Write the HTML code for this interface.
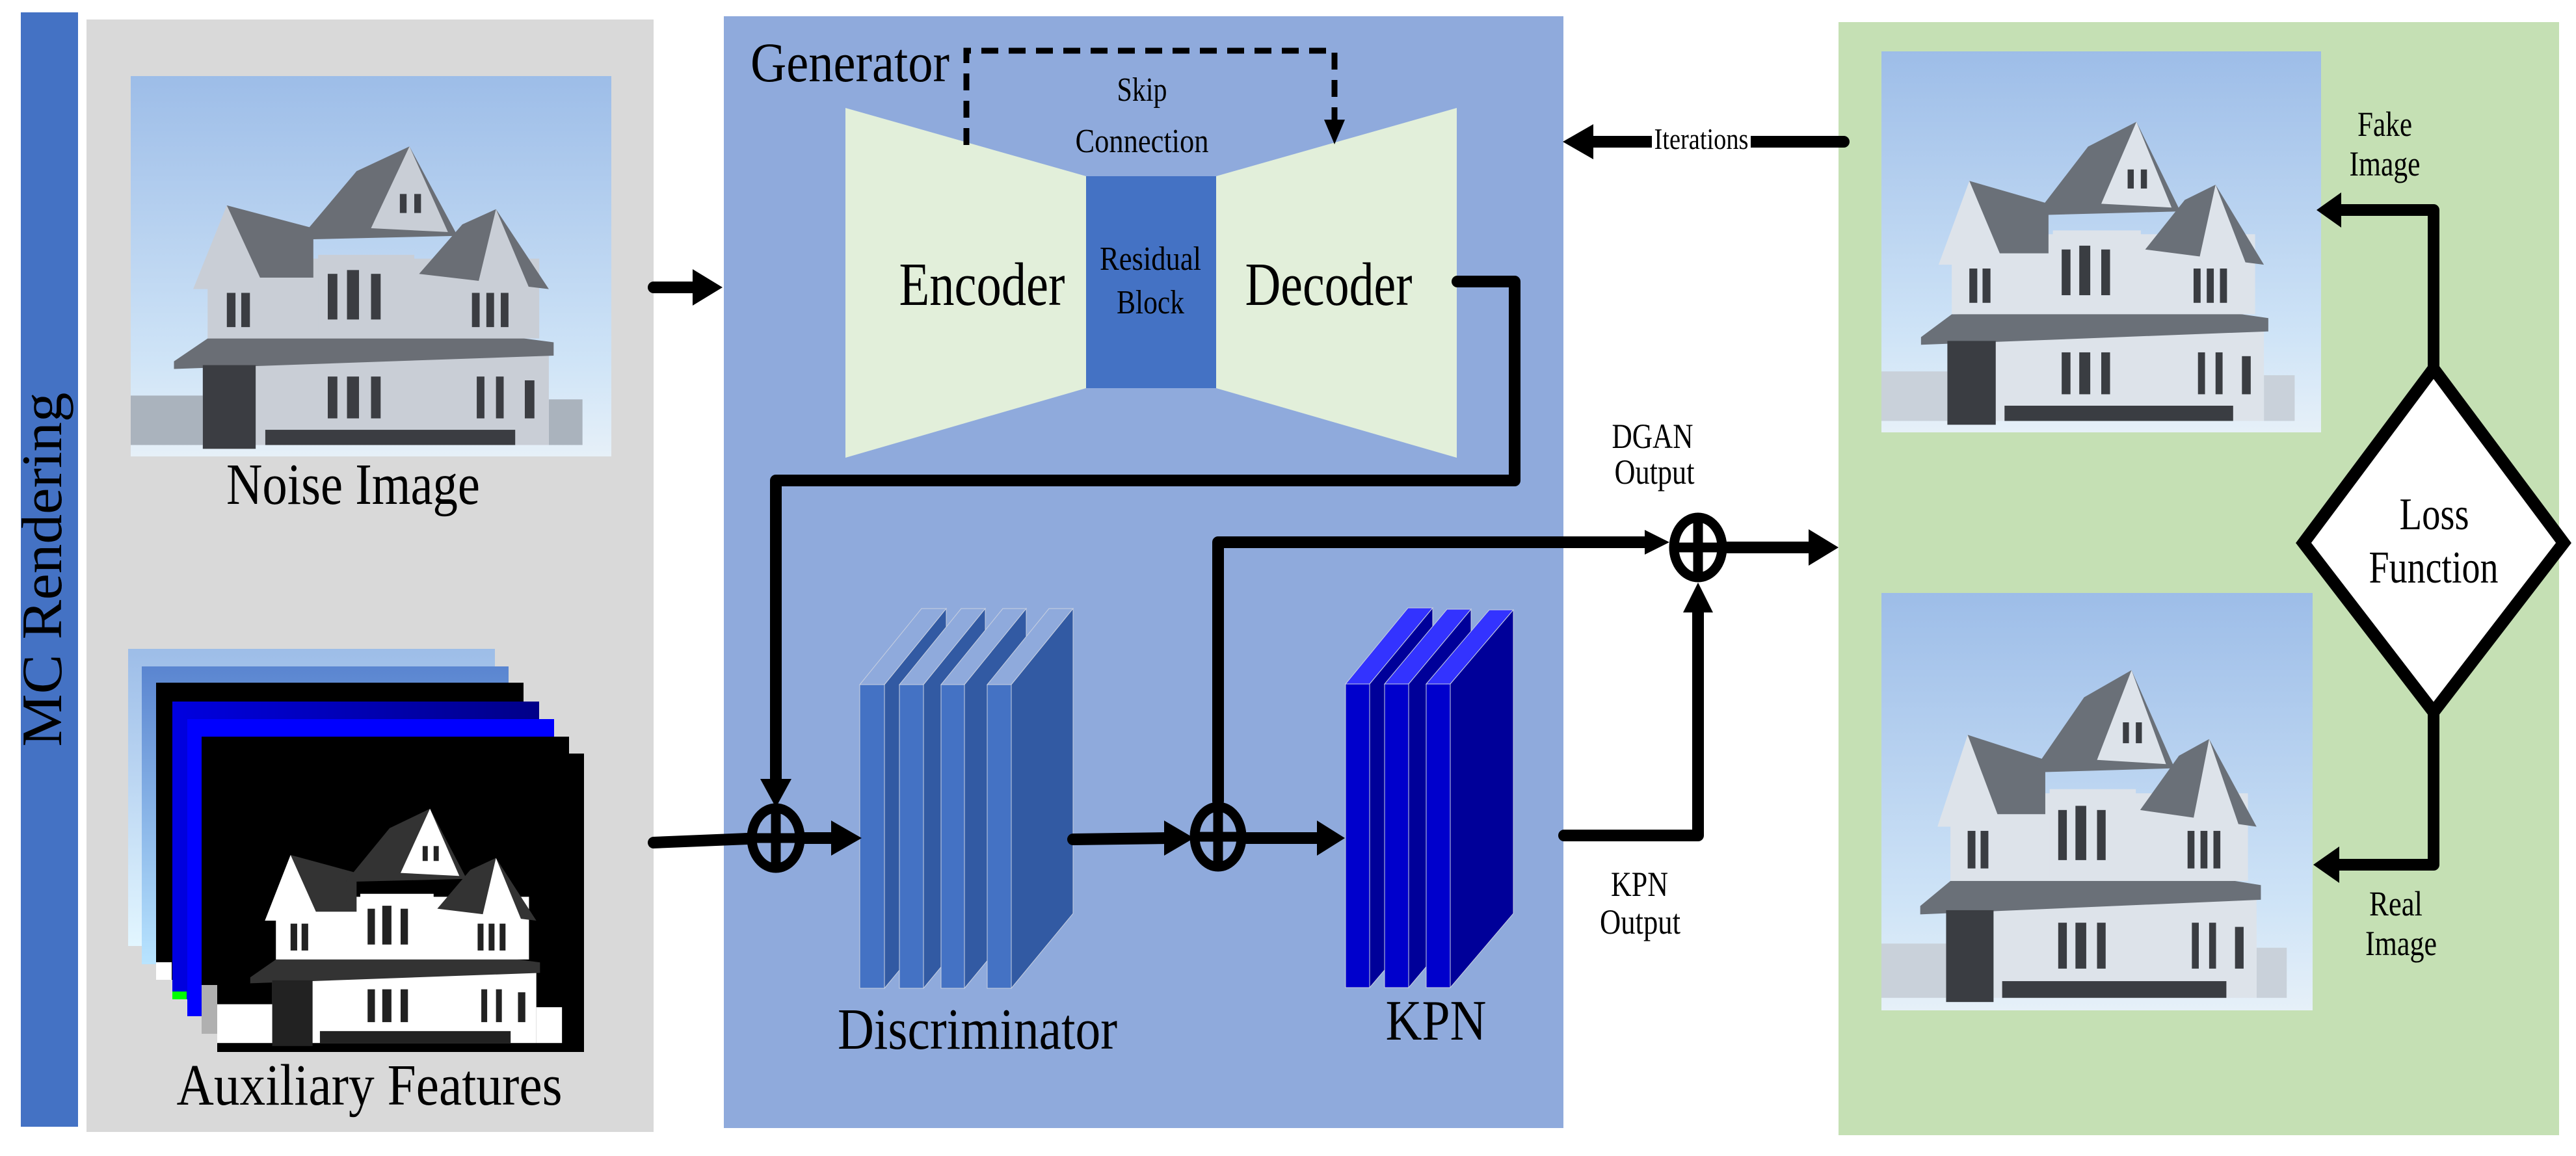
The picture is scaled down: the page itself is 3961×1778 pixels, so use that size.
<!DOCTYPE html>
<html><head><meta charset="utf-8"><style>
html,body{margin:0;padding:0;background:#fff;}
svg{display:block;font-family:"Liberation Serif","DejaVu Serif","Times New Roman",serif;}
text{font-family:"Liberation Serif","DejaVu Serif","Times New Roman",serif;fill:#000;}
.w{fill:var(--w);} .r{fill:var(--r);} .d{fill:var(--d);} .g{fill:var(--g);}
</style></head><body>
<svg width="3961" height="1778" viewBox="0 0 3961 1778" xmlns="http://www.w3.org/2000/svg">
<defs>
<linearGradient id="sky" x1="0" y1="0" x2="0" y2="1">
<stop offset="0" stop-color="#9dbde8"/><stop offset="0.75" stop-color="#cfe4f7"/><stop offset="1" stop-color="#e6f0f8"/>
</linearGradient>
<linearGradient id="sky2" x1="0" y1="0" x2="0" y2="1">
<stop offset="0" stop-color="#9dbde8"/><stop offset="1" stop-color="#e2f6ff"/>
</linearGradient>
<linearGradient id="blu2" x1="0" y1="0" x2="0" y2="1">
<stop offset="0" stop-color="#5a85d0"/><stop offset="1" stop-color="#b8e4ff"/>
</linearGradient>
<linearGradient id="blu4" x1="0" y1="0" x2="1" y2="0">
<stop offset="0" stop-color="#0000e0"/><stop offset="1" stop-color="#000088"/>
</linearGradient>
<symbol id="house" viewBox="0 0 1000 1000" preserveAspectRatio="none">
<rect x="0" y="840" width="150" height="130" class="g"/>
<rect x="870" y="850" width="70" height="120" class="g"/>
<rect x="150" y="730" width="720" height="240" class="w"/>
<polygon points="90,750 160,690 700,670 880,700 880,735 90,770" class="r"/>
<rect x="160" y="480" width="690" height="210" class="w"/>
<polygon points="150,530 200,340 380,400 380,530" class="r"/>
<polygon points="130,560 200,340 280,560" class="w"/>
<polygon points="350,430 470,250 580,185 680,420" class="r"/>
<polygon points="500,400 580,185 660,410" class="w"/>
<polygon points="600,520 690,390 760,350 870,560" class="r"/>
<polygon points="720,560 760,350 830,560" class="w"/>
<rect x="390" y="470" width="200" height="210" class="w"/>
<rect x="410" y="520" width="20" height="120" class="d"/><rect x="450" y="510" width="25" height="130" class="d"/><rect x="500" y="520" width="20" height="120" class="d"/>
<rect x="200" y="570" width="18" height="90" class="d"/><rect x="230" y="570" width="18" height="90" class="d"/>
<rect x="560" y="310" width="14" height="50" class="d"/><rect x="590" y="310" width="14" height="50" class="d"/>
<rect x="710" y="570" width="16" height="90" class="d"/><rect x="740" y="570" width="16" height="90" class="d"/><rect x="770" y="570" width="16" height="90" class="d"/>
<rect x="150" y="760" width="110" height="220" class="d"/>
<rect x="410" y="790" width="20" height="110" class="d"/><rect x="450" y="790" width="25" height="110" class="d"/><rect x="500" y="790" width="20" height="110" class="d"/>
<rect x="720" y="790" width="16" height="110" class="d"/><rect x="760" y="790" width="16" height="110" class="d"/><rect x="820" y="800" width="20" height="100" class="d"/>
<rect x="280" y="930" width="520" height="40" class="d"/>
</symbol>
</defs>

<rect x="32" y="19" width="88" height="1714" fill="#4472c4"/>
<text transform="translate(94,876) rotate(-90)" font-size="88" text-anchor="middle" textLength="545" lengthAdjust="spacingAndGlyphs">MC Rendering</text>

<rect x="133" y="30" width="872" height="1711" fill="#d9d9d9"/>
<rect x="201" y="117" width="739" height="585" fill="url(#sky)"/>
<use href="#house" x="201" y="117" width="739" height="585" style="--w:#c9ced6;--r:#6a6e75;--d:#3b3d42;--g:#aab3bd"/>
<text x="543" y="775" font-size="90" text-anchor="middle" textLength="390" lengthAdjust="spacingAndGlyphs">Noise Image</text>

<rect x="197" y="998" width="564" height="457" fill="url(#sky2)"/>
<rect x="218" y="1025" width="564" height="458" fill="url(#blu2)"/>
<rect x="240" y="1050" width="565" height="457" fill="#000"/>
<rect x="240" y="1480" width="24" height="27" fill="#fff"/>
<rect x="265" y="1079" width="564" height="458" fill="url(#blu4)"/>
<rect x="265" y="1525" width="22" height="12" fill="#00ff00"/>
<rect x="288" y="1106" width="564" height="457" fill="#0000ff"/>
<rect x="310" y="1133" width="565" height="457" fill="#000"/>
<rect x="310" y="1515" width="24" height="75" fill="#b0b0b0"/>
<rect x="334" y="1159" width="564" height="459" fill="#000"/>
<use href="#house" x="334" y="1159" width="564" height="459" style="--w:#ffffff;--r:#333333;--d:#222;--g:#ffffff"/>
<text x="568" y="1699" font-size="90" text-anchor="middle" textLength="593" lengthAdjust="spacingAndGlyphs">Auxiliary  Features</text>

<rect x="1113" y="25" width="1291" height="1710" fill="#8faadc"/>
<text x="1154" y="125" font-size="86" textLength="306" lengthAdjust="spacingAndGlyphs">Generator</text>
<polygon points="1300,166 1670,271 1670,597 1300,704" fill="#e2efda"/>
<polygon points="2240,166 1870,271 1870,597 2240,704" fill="#e2efda"/>
<rect x="1670" y="271" width="200" height="326" fill="#4472c4"/>
<text x="1510" y="469" font-size="94" text-anchor="middle" textLength="255" lengthAdjust="spacingAndGlyphs">Encoder</text>
<text x="2043" y="469" font-size="94" text-anchor="middle" textLength="257" lengthAdjust="spacingAndGlyphs">Decoder</text>
<text x="1769" y="415" font-size="52" text-anchor="middle" textLength="156" lengthAdjust="spacingAndGlyphs">Residual</text>
<text x="1769" y="482" font-size="52" text-anchor="middle" textLength="104" lengthAdjust="spacingAndGlyphs">Block</text>
<text x="1756" y="155" font-size="52" text-anchor="middle" textLength="77" lengthAdjust="spacingAndGlyphs">Skip</text>
<text x="1756" y="234" font-size="52" text-anchor="middle" textLength="205" lengthAdjust="spacingAndGlyphs">Connection</text>
<path d="M1486,223 V78 H2052 V190" fill="none" stroke="#000" stroke-width="9" stroke-dasharray="26,16"/>
<polygon points="2036,184 2068,184 2052,222" fill="#000"/>

<g stroke="#c8d0e0" stroke-width="1">
<g><polygon points="1322,1053 1417,936 1455,936 1360,1053" fill="#8faadc"/><polygon points="1360,1053 1455,936 1455,1405 1360,1520" fill="#325aa3"/><rect x="1322" y="1053" width="38" height="467" fill="#4472c4"/></g>
<g><polygon points="1383,1053 1478,936 1515,936 1420,1053" fill="#8faadc"/><polygon points="1420,1053 1515,936 1515,1405 1420,1520" fill="#325aa3"/><rect x="1383" y="1053" width="37" height="467" fill="#4472c4"/></g>
<g><polygon points="1447,1053 1542,936 1578,936 1483,1053" fill="#8faadc"/><polygon points="1483,1053 1578,936 1578,1405 1483,1520" fill="#325aa3"/><rect x="1447" y="1053" width="36" height="467" fill="#4472c4"/></g>
<g><polygon points="1518,1053 1613,936 1650,936 1555,1053" fill="#8faadc"/><polygon points="1555,1053 1650,936 1650,1405 1555,1520" fill="#325aa3"/><rect x="1518" y="1053" width="37" height="467" fill="#4472c4"/></g>
</g>
<text x="1503" y="1613" font-size="90" text-anchor="middle" textLength="430" lengthAdjust="spacingAndGlyphs">Discriminator</text>

<g stroke="#c8d0e0" stroke-width="1">
<g><polygon points="2069,1052 2165,935 2203,935 2106,1052" fill="#3333ff"/><polygon points="2106,1052 2203,935 2203,1405 2106,1519" fill="#000099"/><rect x="2069" y="1052" width="37" height="467" fill="#0000cc"/></g>
<g><polygon points="2129,1052 2225,937 2262,937 2166,1052" fill="#3333ff"/><polygon points="2166,1052 2262,937 2262,1405 2166,1519" fill="#000099"/><rect x="2129" y="1052" width="37" height="467" fill="#0000cc"/></g>
<g><polygon points="2193,1052 2290,938 2327,938 2230,1052" fill="#3333ff"/><polygon points="2230,1052 2327,938 2327,1405 2230,1519" fill="#000099"/><rect x="2193" y="1052" width="37" height="467" fill="#0000cc"/></g>
</g>
<text x="2208" y="1599" font-size="88" text-anchor="middle" textLength="155" lengthAdjust="spacingAndGlyphs">KPN</text>

<rect x="2827" y="34" width="1108" height="1712" fill="#c5e0b4"/>
<rect x="2893" y="79" width="676" height="586" fill="url(#sky)"/>
<use href="#house" x="2893" y="79" width="676" height="586" style="--w:#dde3ea;--r:#6a7078;--d:#3a3d42;--g:#c9d1da"/>
<rect x="2893" y="912" width="663" height="642" fill="url(#sky)"/>
<use href="#house" x="2893" y="912" width="663" height="642" style="--w:#dde3ea;--r:#6a7078;--d:#3a3d42;--g:#c9d1da"/>

<g stroke="#000" stroke-width="18" fill="none" stroke-linecap="round" stroke-linejoin="round">
<line x1="1005" y1="442" x2="1070" y2="442"/>
<path d="M2241,433 H2329 V739 H1193 V1200"/>
<line x1="1005" y1="1296" x2="1150" y2="1290"/>
<line x1="1237" y1="1289" x2="1285" y2="1289"/>
<line x1="1650" y1="1291" x2="1795" y2="1289"/>
<line x1="1917" y1="1289" x2="2030" y2="1289"/>
<path d="M1873,1232 V834 H2530"/>
<line x1="2655" y1="842" x2="2785" y2="842"/>
<path d="M2405,1285 H2611 V940"/>
<line x1="2835" y1="218" x2="2445" y2="218"/>
<path d="M3742,563 V323 H3595"/>
<path d="M3742,1095 V1330 H3590"/>
</g>
<g stroke="#000" stroke-width="15" fill="none">
<ellipse cx="1193" cy="1289" rx="37" ry="46"/>
<line x1="1193" y1="1243" x2="1193" y2="1335"/><line x1="1156" y1="1289" x2="1230" y2="1289"/>
<ellipse cx="1873" cy="1287" rx="36" ry="46"/>
<line x1="1873" y1="1241" x2="1873" y2="1333"/><line x1="1837" y1="1287" x2="1909" y2="1287"/>
<ellipse cx="2611" cy="842" rx="37" ry="46"/>
<line x1="2611" y1="796" x2="2611" y2="888"/><line x1="2574" y1="842" x2="2648" y2="842"/>
</g>
<g fill="#000">
<polygon points="1065,414 1111,442 1065,470"/>
<polygon points="1169,1198 1217,1198 1193,1242"/>
<polygon points="1278,1262 1325,1289 1278,1316"/>
<polygon points="1790,1262 1836,1289 1790,1316"/>
<polygon points="2025,1262 2068,1289 2025,1316"/>
<polygon points="2529,815 2567,834 2529,853"/>
<polygon points="2781,814 2827,842 2781,870"/>
<polygon points="2588,942 2634,942 2611,896"/>
<polygon points="2450,191 2403,218 2450,245"/>
<polygon points="3600,296 3562,323 3600,350"/>
<polygon points="3597,1302 3557,1330 3597,1358"/>
</g>
<rect x="2540" y="190" width="152" height="50" fill="#fff"/>
<text x="2616" y="229" font-size="46" text-anchor="middle" textLength="145" lengthAdjust="spacingAndGlyphs">Iterations</text>
<text x="2541" y="689" font-size="54" text-anchor="middle" textLength="125" lengthAdjust="spacingAndGlyphs">DGAN</text>
<text x="2544" y="744" font-size="54" text-anchor="middle" textLength="123" lengthAdjust="spacingAndGlyphs">Output</text>
<text x="2521" y="1378" font-size="54" text-anchor="middle" textLength="88" lengthAdjust="spacingAndGlyphs">KPN</text>
<text x="2522" y="1436" font-size="54" text-anchor="middle" textLength="124" lengthAdjust="spacingAndGlyphs">Output</text>

<polygon points="3742,567 3942,835 3742,1095 3542,835" fill="#fff" stroke="#000" stroke-width="19" stroke-linejoin="miter"/>
<text x="3743" y="814" font-size="70" text-anchor="middle" textLength="107" lengthAdjust="spacingAndGlyphs">Loss</text>
<text x="3742" y="896" font-size="70" text-anchor="middle" textLength="199" lengthAdjust="spacingAndGlyphs">Function</text>
<text x="3667" y="209" font-size="54" text-anchor="middle" textLength="84" lengthAdjust="spacingAndGlyphs">Fake</text>
<text x="3667" y="270" font-size="54" text-anchor="middle" textLength="109" lengthAdjust="spacingAndGlyphs">Image</text>
<text x="3684" y="1408" font-size="54" text-anchor="middle" textLength="82" lengthAdjust="spacingAndGlyphs">Real</text>
<text x="3692" y="1469" font-size="54" text-anchor="middle" textLength="110" lengthAdjust="spacingAndGlyphs">Image</text>
</svg>
</body></html>
